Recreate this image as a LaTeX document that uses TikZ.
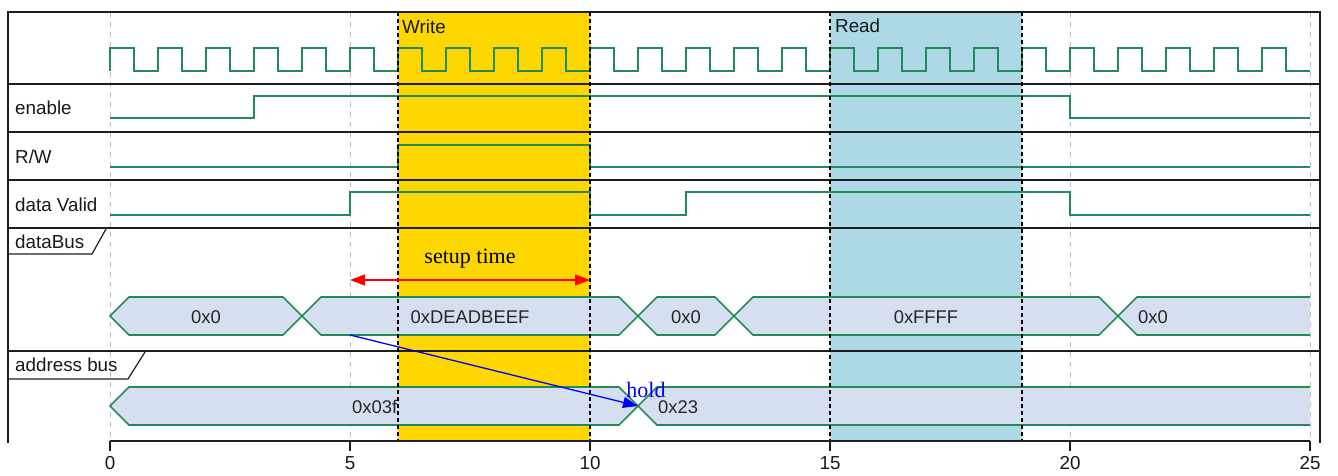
\documentclass[tikz,border=0pt]{standalone}
\usepackage{fontspec}
\setmainfont{Liberation Sans}
\newfontfamily\serifx{Liberation Serif}
\usetikzlibrary{arrows.meta}
\definecolor{sig}{RGB}{34,139,87}
\definecolor{busfill}{RGB}{214,223,240}
\definecolor{hlgold}{RGB}{255,215,0}
\definecolor{hlblue}{RGB}{173,216,230}
\definecolor{frm}{RGB}{30,30,30}
\tikzset{
  wave/.style={draw=sig, line width=1.8pt, line join=miter},
  busseg/.style={fill=busfill, draw=sig, line width=1.6pt},
  frameline/.style={draw=frm, line width=2pt},
  gridline/.style={draw=black!25, line width=0.8pt, dash pattern=on 5pt off 5pt},
  marker/.style={draw=black, line width=2.6pt, dash pattern=on 4pt off 3pt},
  lbl/.style={font=\fontsize{18.8}{22}\selectfont, inner sep=0pt, text=black!90},
  buslbl/.style={font=\fontsize{18.4}{22}\selectfont, inner sep=0pt, text=black!85},
  notelbl/.style={font=\serifx\fontsize{22}{26}\selectfont, inner sep=0pt},
  tab/.style={draw=frm, line width=1.2pt},
  noteline/.style={line width=1.3pt, >={Triangle[length=15pt,width=11pt]}}
}
\begin{document}
\begin{tikzpicture}[x=1pt,y=-1pt]
\useasboundingbox (0,0) rectangle (1338,476);
\fill[white] (0,0) rectangle (1338,476);

% highlight regions
\fill[hlgold] (398,12) rectangle (590,441);
\fill[hlblue] (830,12) rectangle (1022,441);

% grid
\foreach \t in {0,5,...,25} \draw[gridline] ({110+48*\t},12) -- ({110+48*\t},441);

% frame
\draw[frameline] (8,443) -- (8,12) -- (1320,12) -- (1320,443);
\foreach \yy in {84,132,180,228,351} \draw[frameline] (8,\yy) -- (1320,\yy);

% signal labels
\node[lbl, anchor=west] (lenable) at (15,108) {enable};
\node[lbl, anchor=west] (lrw) at (15,157) {R/W};
\node[lbl, anchor=west] (ldv) at (15,205) {data Valid};
\draw[tab] (8,254) -- (92,254) -- (106,229);
\node[lbl, anchor=west] (ldb) at (15,242) {dataBus};
\draw[tab] (8,379) -- (128,379) -- (145,352);
\node[lbl, anchor=west] (lab) at (15,365) {address bus};

% clock
\draw[wave] (110,71) foreach \i in {0,...,24} { -- ({110+48*\i},48) -- ({134+48*\i},48) -- ({134+48*\i},71) -- ({158+48*\i},71) };

% enable
\draw[wave] (110,118) -- (254,118) -- (254,96) -- (1070,96) -- (1070,118) -- (1310,118);
% R/W
\draw[wave] (110,167) -- (398,167) -- (398,145) -- (590,145) -- (590,167) -- (1310,167);
% data valid
\draw[wave] (110,215) -- (350,215) -- (350,192) -- (590,192) -- (590,215) -- (686,215) -- (686,192) -- (1070,192) -- (1070,215) -- (1310,215);

% dataBus
\draw[busseg] (110,316) -- (129,297) -- (283,297) -- (302,316) -- (283,335) -- (129,335) -- cycle;
\draw[busseg] (302,316) -- (321,297) -- (619,297) -- (638,316) -- (619,335) -- (321,335) -- cycle;
\draw[busseg] (638,316) -- (657,297) -- (715,297) -- (734,316) -- (715,335) -- (657,335) -- cycle;
\draw[busseg] (734,316) -- (753,297) -- (1099,297) -- (1118,316) -- (1099,335) -- (753,335) -- cycle;
\fill[busfill] (1118,316) -- (1137,297) -- (1310,297) -- (1310,335) -- (1137,335) -- cycle;
\draw[busseg, fill=none] (1310,297) -- (1137,297) -- (1118,316) -- (1137,335) -- (1310,335);
\node[buslbl] (d1) at (206,317) {0x0};
\node[buslbl] (d2) at (470,317) {0xDEADBEEF};
\node[buslbl] (d3) at (686,317) {0x0};
\node[buslbl] (d4) at (926,317) {0xFFFF};
\node[buslbl, anchor=west] (d5) at (1138,317) {0x0};

% address bus
\draw[busseg] (110,406) -- (129,387) -- (619,387) -- (638,406) -- (619,425) -- (129,425) -- cycle;
\fill[busfill] (638,406) -- (657,387) -- (1310,387) -- (1310,425) -- (657,425) -- cycle;
\draw[busseg, fill=none] (1310,387) -- (657,387) -- (638,406) -- (657,425) -- (1310,425);
\node[buslbl, anchor=west] (a1) at (352,407) {0x03f};
\node[buslbl, anchor=west] (a2) at (658,407) {0x23};

% markers
\foreach \xx in {398,590,830,1022} \draw[marker] (\xx,12) -- (\xx,441);
\node[lbl, anchor=west] (wlbl) at (402,27) {Write};
\node[lbl, anchor=west] (rlbl) at (835,26) {Read};

% setup time
\coordinate (s1) at (350,280);
\coordinate (s2) at (590,280);
\draw[noteline, red, <->] (s1) -- (s2);
\node[notelbl] (stl) at (470,259) {setup time};

% hold
\coordinate (h1) at (350,335);
\coordinate (h2) at (638,406);
\draw[noteline, blue, ->] (h1) -- (h2);
\node[notelbl, text=blue] (hl) at (646,390) {hold};

% axis
\draw[frameline] (110,441) -- (1310,441);
\foreach \t in {0,5,...,25} {
  \draw[frameline] ({110+48*\t},441) -- ({110+48*\t},451);
  \node[lbl] (tk\t) at ({110+48*\t},463) {\t};
}
\end{tikzpicture}
\end{document}
